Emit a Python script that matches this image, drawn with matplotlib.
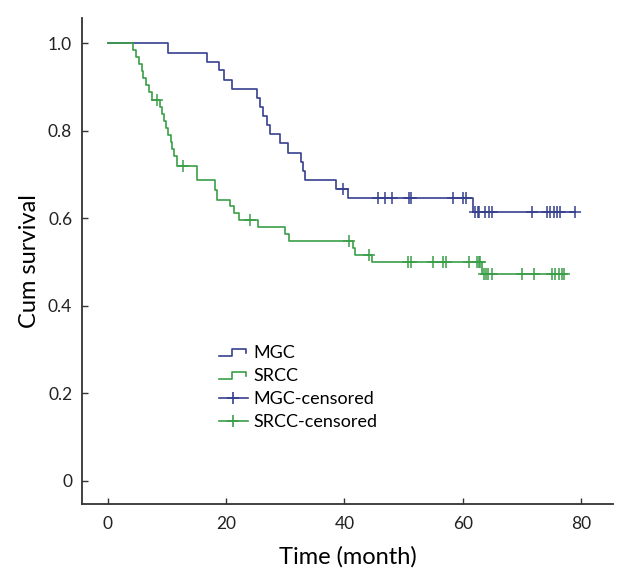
import numpy as np
import matplotlib.pyplot as plt
from matplotlib.lines import Line2D
from matplotlib.legend_handler import HandlerBase

plt.rcParams['font.family'] = ['Lato', 'DejaVu Sans']

# --- VERİ (Kaplan-Meier eğrileri) ---
mgc_times = [0, 10.1, 16.7, 18.8, 19.6, 21.0, 25.2, 25.7, 26.2, 26.9, 27.4,
             29.1, 30.5, 32.6, 33.0, 33.3, 38.6, 40.6, 61.7]
mgc_surv = [1.0, 0.979, 0.958, 0.938, 0.917, 0.896, 0.875, 0.854, 0.833, 0.813,
            0.792, 0.771, 0.750, 0.729, 0.708, 0.687, 0.667, 0.646, 0.615]
mgc_censor = [39.8, 45.7, 46.9, 48.0, 50.9, 51.3, 58.3, 60.1, 60.5,
              62.0, 62.5, 62.8, 63.8, 64.4, 65.0, 71.7, 74.2, 74.8, 75.5,
              76.0, 76.5, 78.9]

srcc_times = [0, 4.2, 4.8, 5.3, 5.7, 6.0, 6.5, 7.0, 7.4, 8.8, 9.1, 9.5, 9.8,
              10.2, 10.6, 10.9, 11.2, 11.7, 15.0, 18.1, 18.4, 20.6, 21.3,
              22.1, 25.4, 29.9, 30.6, 41.4, 41.8, 44.6, 63.3]
srcc_surv = [1.0, 0.984, 0.968, 0.952, 0.937, 0.921, 0.905, 0.889, 0.870,
             0.855, 0.838, 0.822, 0.806, 0.790, 0.774, 0.758, 0.742, 0.719,
             0.687, 0.665, 0.642, 0.628, 0.613, 0.597, 0.581, 0.565, 0.548,
             0.532, 0.516, 0.499, 0.472]
srcc_censor = [8.3, 12.7, 24.0, 40.8, 44.2, 50.8, 51.3, 55.0, 56.7, 57.2,
               61.0, 62.4, 62.7, 62.9, 63.6, 63.9, 64.3, 64.9, 70.0, 72.0,
               75.1, 75.6, 76.2, 76.8, 77.1]

MGC_COLOR = '#36408d'
SRCC_COLOR = '#3a9e48'


def surv_at(times, surv, t):
    # Basamak fonksiyonundan t anındaki sağkalım değeri
    idx = np.searchsorted(times, t, side='right') - 1
    return np.array(surv)[idx]


class StepHandler(HandlerBase):
    # Lejant için küçük basamak simgesi
    def create_artists(self, legend, orig_handle, xdescent, ydescent,
                       width, height, fontsize, trans):
        x0, y0 = -xdescent, -ydescent
        xs = [x0, x0 + width * 0.45, x0 + width * 0.45, x0 + width * 0.95, x0 + width * 0.95]
        ys = [y0 + height * 0.2, y0 + height * 0.2, y0 + height * 0.75,
              y0 + height * 0.75, y0 + height * 0.45]
        line = Line2D(xs, ys, color=orig_handle.get_color(), lw=1.2, transform=trans)
        return [line]


fig = plt.figure(figsize=(6.3, 5.77), dpi=100)
ax = fig.add_axes([0.130, 0.127, 0.843, 0.841])

for times, surv, cens, color in [(mgc_times, mgc_surv, mgc_censor, MGC_COLOR),
                                 (srcc_times, srcc_surv, srcc_censor, SRCC_COLOR)]:
    xs = list(times) + [max(cens)]
    ys = list(surv) + [surv[-1]]
    ax.step(xs, ys, where='post', color=color, lw=1.2)
    ax.plot(cens, surv_at(times, surv, np.array(cens)), '+', color=color,
            ms=8, mew=1.1, ls='none')

ax.set_xlim(-4.4, 85.4)
ax.set_ylim(-0.053, 1.057)
ax.set_xticks([0, 20, 40, 60, 80])
ax.set_yticks([0, 0.2, 0.4, 0.6, 0.8, 1.0])
ax.set_yticklabels(['0', '0.2', '0.4', '0.6', '0.8', '1.0'])
ax.tick_params(direction='in', length=4, width=1, color='#333333',
               labelsize=12.5, labelcolor='#222222')
ax.tick_params(axis='x', pad=9)
ax.tick_params(axis='y', pad=7)
for side in ['top', 'right']:
    ax.spines[side].set_visible(False)
for side in ['left', 'bottom']:
    ax.spines[side].set_color('#333333')
    ax.spines[side].set_linewidth(1.3)

ax.set_xlabel('Time (month)', fontsize=17, labelpad=10)
ax.set_ylabel('Cum survival', fontsize=17, labelpad=6)

h_mgc = Line2D([], [], color=MGC_COLOR)
h_srcc = Line2D([], [], color=SRCC_COLOR)
h_mgc_c = Line2D([], [], color=MGC_COLOR, marker='+', ms=9, mew=1.2, lw=1.2)
h_srcc_c = Line2D([], [], color=SRCC_COLOR, marker='+', ms=9, mew=1.2, lw=1.2)
ax.legend([h_mgc, h_srcc, h_mgc_c, h_srcc_c],
          ['MGC', 'SRCC', 'MGC-censored', 'SRCC-censored'],
          handler_map={h_mgc: StepHandler(), h_srcc: StepHandler()},
          loc='upper left', bbox_to_anchor=(0.333, 0.417), bbox_transform=fig.transFigure,
          frameon=False, fontsize=13, handlelength=1.6, handletextpad=0.3,
          labelspacing=0.38, borderpad=0)

plt.savefig('out.png', dpi=100)
